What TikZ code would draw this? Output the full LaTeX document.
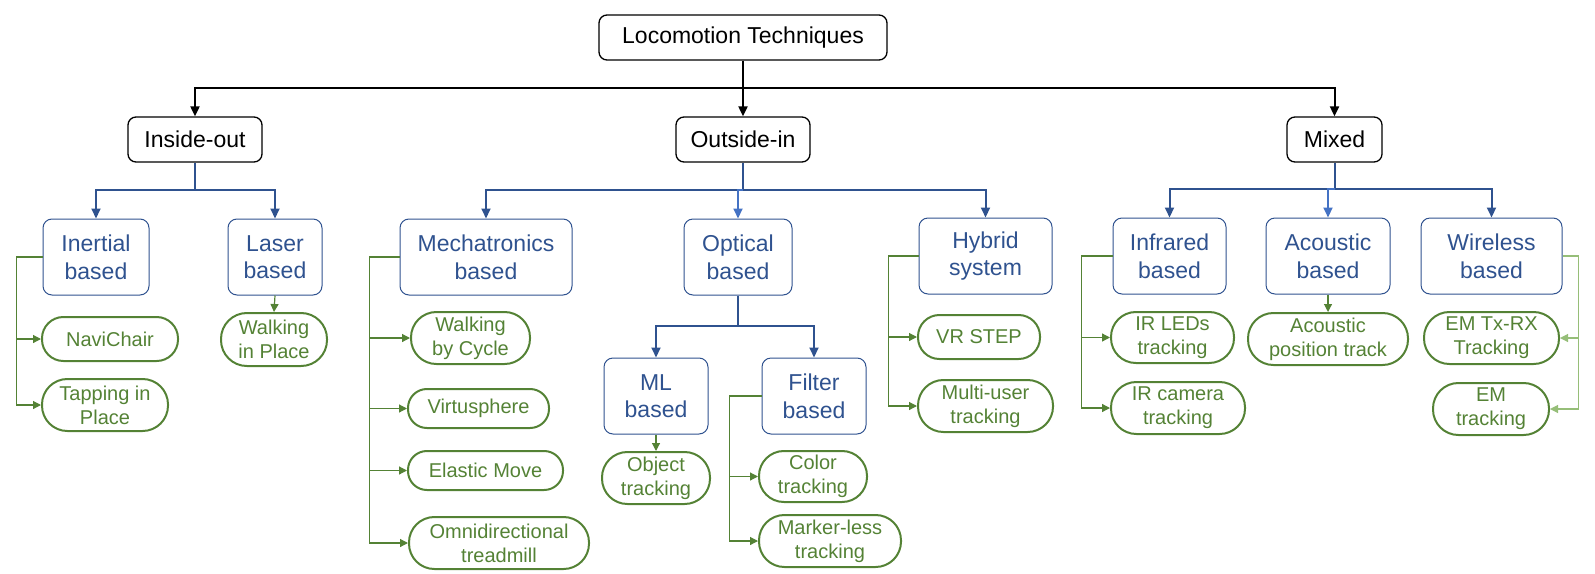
\documentclass[tikz,border=0pt]{standalone}
\usepackage{fontspec}
\setmainfont{Liberation Sans}
\usetikzlibrary{arrows.meta}
\definecolor{dblue}{RGB}{47,82,143}
\definecolor{lblue}{RGB}{68,114,196}
\definecolor{dgreen}{RGB}{84,130,53}
\definecolor{lgreen}{RGB}{150,190,120}
\tikzset{
  x=1pt,y=-1pt,
  kbox/.style={draw=black,line width=1.3pt,rounded corners=8pt,inner sep=0pt,align=center,
    font=\fontsize{23}{27.6}\selectfont,text=black,minimum height=45pt},
  bbox/.style={draw=dblue,line width=1pt,rounded corners=9pt,inner sep=0pt,align=center,
    font=\fontsize{23}{27.6}\selectfont,text=dblue,minimum height=76pt},
  gbox/.style 2 args={draw=dgreen,line width=2pt,inner sep=0pt,align=center,
    font=\fontsize{20}{24}\selectfont,text=dgreen,minimum width=#1,minimum height=#2,
    rounded corners={0.5*#2-0.6pt}},
  karrow/.style={draw=black,line width=2pt,-{Triangle[length=10pt,width=9pt]}},
  kline/.style={draw=black,line width=2pt},
  barrow/.style={draw=dblue,line width=2pt,-{Triangle[length=10pt,width=9pt]}},
  bline/.style={draw=dblue,line width=2pt},
  garrow/.style={draw=dgreen,line width=1.2pt,-{Triangle[length=8pt,width=8pt]}},
}
\begin{document}
\begin{tikzpicture}
\useasboundingbox (0,0) rectangle (1595,573);
% level 0 and 1
\node[kbox,minimum width=288pt] (root) at (743,37.5) {Locomotion Techniques};
\node[kbox,minimum width=134pt] (inout) at (195,139.5) {Inside-out};
\node[kbox,minimum width=134pt] (outin) at (743,139.5) {Outside-in};
\node[kbox,minimum width=95pt] (mixed) at (1334.5,139.5) {Mixed};
% level 2 (blue)
\node[bbox,minimum width=106pt] (inertial) at (96,257) {Inertial\\based};
\node[bbox,minimum width=94pt] (laser) at (275,257) {Laser\\based};
\node[bbox,minimum width=172pt] (mech) at (486,257) {Mechatronics\\based};
\node[bbox,minimum width=108pt] (optical) at (738,257) {Optical\\based};
\node[bbox,minimum width=133pt] (hybrid) at (985.5,256) {Hybrid\\system};
\node[bbox,minimum width=113pt] (infrared) at (1169.5,256) {Infrared\\based};
\node[bbox,minimum width=124pt] (acoustic) at (1328,256) {Acoustic\\based};
\node[bbox,minimum width=141pt] (wireless) at (1491.5,256) {Wireless\\based};
\node[bbox,minimum width=104pt] (ml) at (656,396) {ML\\based};
\node[bbox,minimum width=104pt] (filter) at (814,396) {Filter\\based};
% green leaves
\node[gbox={136pt}{44pt}] (navichair) at (110,339) {NaviChair};
\node[gbox={126pt}{52pt}] (tapping) at (105,405) {Tapping in\\Place};
\node[gbox={106pt}{53pt}] (wip) at (274,339.5) {Walking\\in Place};
\node[gbox={119pt}{52pt}] (cycle) at (470.5,338) {Walking\\by Cycle};
\node[gbox={141pt}{39pt}] (virtu) at (478.5,408.5) {Virtusphere};
\node[gbox={155pt}{39pt}] (elastic) at (485.5,470.5) {Elastic Move};
\node[gbox={180pt}{52pt}] (omni) at (499,543) {Omnidirectional\\treadmill};
\node[gbox={108pt}{52pt}] (object) at (656,478) {Object\\tracking};
\node[gbox={108pt}{51pt}] (color) at (813,476.5) {Color\\tracking};
\node[gbox={142pt}{52pt}] (marker) at (830,541) {Marker-less\\tracking};
\node[gbox={122pt}{44pt}] (vrstep) at (979,337) {VR STEP};
\node[gbox={135pt}{52pt}] (multi) at (985.5,406) {Multi-user\\tracking};
\node[gbox={123pt}{51pt}] (irleds) at (1172.5,337.5) {IR LEDs\\tracking};
\node[gbox={134pt}{52pt}] (ircam) at (1178,408) {IR camera\\tracking};
\node[gbox={160pt}{52pt}] (acpos) at (1328,339) {Acoustic\\position track};
\node[gbox={135pt}{52pt}] (emtx) at (1491.5,338) {EM Tx-RX\\Tracking};
\node[gbox={116pt}{52pt}] (emtr) at (1491,409) {EM\\tracking};
% black connectors
\coordinate (j0) at (743,88);
\draw[kline] (root.south) -- (j0);
\draw[karrow] (j0) -| (inout.north);
\draw[karrow] (j0) -| (outin.north);
\draw[karrow] (j0) -| (mixed.north);
% blue connectors
\coordinate (jin) at (195,190);
\draw[bline] (inout.south) -- (jin);
\draw[barrow] (jin) -| (inertial.north);
\draw[barrow] (jin) -| (laser.north);
\coordinate (jout) at (743,190);
\draw[bline] (outin.south) -- (jout);
\draw[barrow] (jout) -| (mech.north);
\draw[barrow] (jout) -| (hybrid.north);
\draw[barrow,draw=lblue] (jout) -| (optical.north);
\coordinate (jmix) at (1334.5,189);
\draw[bline] (mixed.south) -- (jmix);
\draw[barrow] (jmix) -| (infrared.north);
\draw[barrow] (jmix) -| (wireless.north);
\draw[barrow,draw=lblue] (jmix) -| (acoustic.north);
\coordinate (jopt) at (738,326);
\draw[bline] (optical.south) -- (jopt);
\draw[barrow] (jopt) -| (ml.north);
\draw[barrow] (jopt) -| (filter.north);
% green connectors
\draw[garrow] (inertial.west) -- ++(-26,0) |- (navichair.west);
\draw[garrow] (inertial.west) -- ++(-26,0) |- (tapping.west);
\draw[garrow] (laser.south) -- (wip.north);
\draw[garrow] (mech.west) -- ++(-30,0) |- (cycle.west);
\draw[garrow] (mech.west) -- ++(-30,0) |- (virtu.west);
\draw[garrow] (mech.west) -- ++(-30,0) |- (elastic.west);
\draw[garrow] (mech.west) -- ++(-30,0) |- (omni.west);
\draw[garrow] (ml.south) -- (object.north);
\draw[garrow] (filter.west) -- ++(-32,0) |- (color.west);
\draw[garrow] (filter.west) -- ++(-32,0) |- (marker.west);
\draw[garrow] (hybrid.west) -- ++(-30,0) |- (vrstep.west);
\draw[garrow] (hybrid.west) -- ++(-30,0) |- (multi.west);
\draw[garrow] (infrared.west) -- ++(-31,0) |- (irleds.west);
\draw[garrow] (infrared.west) -- ++(-31,0) |- (ircam.west);
\draw[garrow] (acoustic.south) -- (acpos.north);
\draw[garrow,draw=lgreen] (wireless.east) -- ++(16,0) |- (emtx.east);
\draw[garrow,draw=lgreen] (wireless.east) -- ++(16,0) |- (emtr.east);
\end{tikzpicture}
\end{document}
